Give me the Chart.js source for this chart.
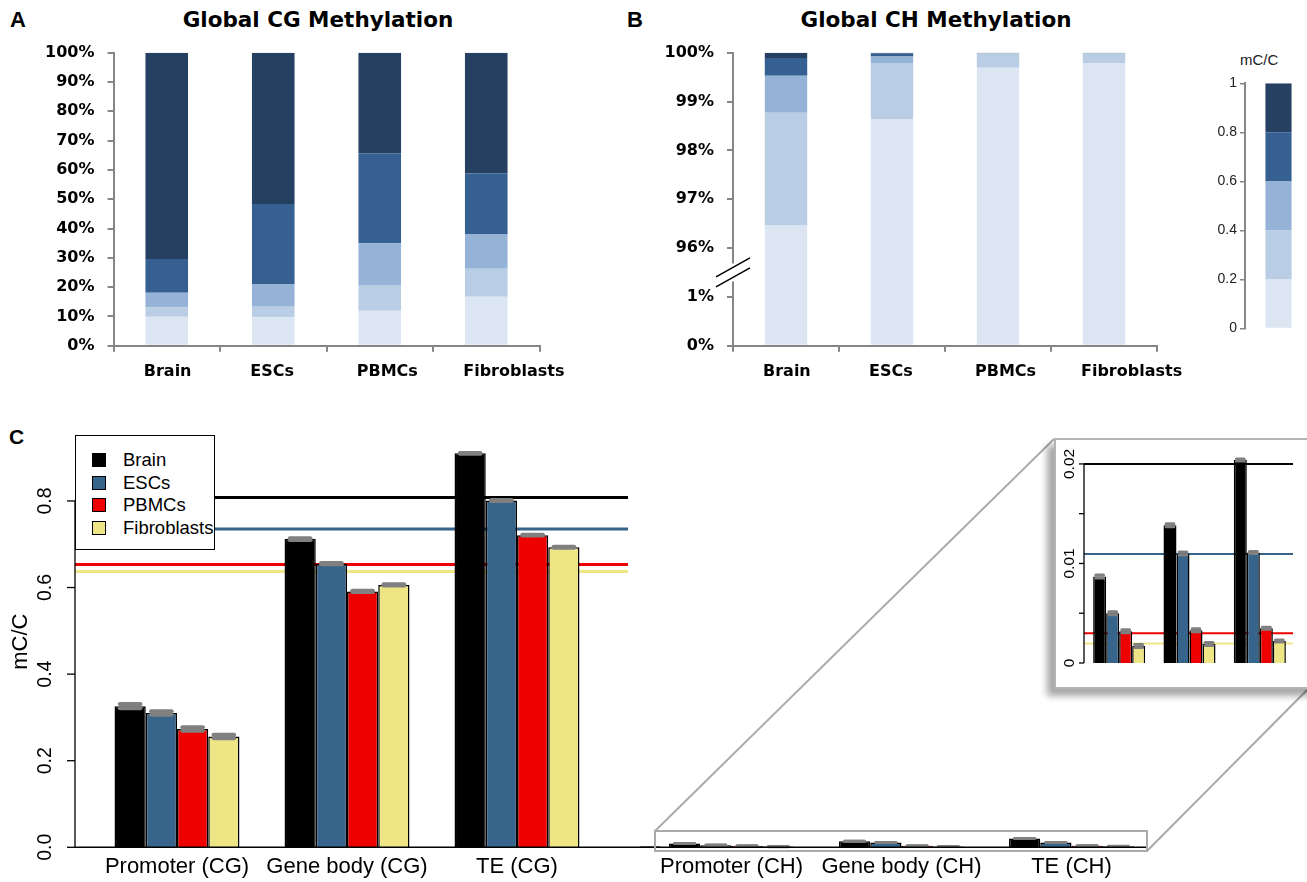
<!DOCTYPE html>
<html>
<head>
<meta charset="utf-8">
<script src="https://cdn.jsdelivr.net/npm/chart.js@4.4.0/dist/chart.umd.min.js"></script>
<style>
html, body { margin: 0; padding: 0; overflow: hidden; background: #fff; }
body { width: 1307px; height: 882px; position: relative; font-family: "Liberation Sans", Arial, sans-serif; }
.pane { position: absolute; }
.title { position: absolute; font-family: "DejaVu Sans", sans-serif; font-weight: bold; font-size: 21.5px; line-height: 22px; text-align: center; color: #000; }
.letter { position: absolute; font-family: "Liberation Sans", Arial, sans-serif; font-weight: bold; font-size: 22px; line-height: 22px; color: #000; }
#legendC { position: absolute; left: 75px; top: 435px; width: 138px; height: 113px; border: 1.5px solid #000; background: #fff;
  font-size: 18.5px; }
#legendC div { position: absolute; left: 47px; line-height: 19px; white-space: nowrap; }
#legendC span { position: absolute; left: -31px; top: 3px; width: 12px; height: 12px; border: 1px solid #000; }
#inset { position: absolute; left: 1054px; top: 438px; width: 270px; height: 247px; border: 2px solid #b4b4b4; background: #fff;
  box-shadow: -7px 7px 7px rgba(0,0,0,0.35); }
#scaleTitle { position: absolute; left: 1240px; top: 52px; font-size: 15px; line-height: 15px; color: #222; }
svg { position: absolute; left: 0; top: 0; }
</style>
</head>
<body>
<div class="letter" style="left:10px;top:9px">A</div>
<div class="title" style="left:118px;top:9px;width:400px">Global CG Methylation</div>
<div class="letter" style="left:627px;top:9px">B</div>
<div class="title" style="left:736px;top:9px;width:400px">Global CH Methylation</div>
<div class="letter" style="left:9px;top:426px;font-size:21px">C</div>
<div id="scaleTitle">mC/C</div>

<div class="pane" style="left:0;top:0;width:600px;height:390px"><canvas id="cgChart"></canvas></div>
<div class="pane" style="left:600px;top:0;width:600px;height:390px"><canvas id="chChart"></canvas></div>
<div class="pane" style="left:1190px;top:40px;width:122px;height:300px"><canvas id="scaleChart"></canvas></div>
<div class="pane" style="left:0;top:420px;width:660px;height:462px"><canvas id="regionCG"></canvas></div>
<div class="pane" style="left:640px;top:420px;width:520px;height:462px"><canvas id="regionCH"></canvas></div>

<svg width="1307" height="882">
  <rect x="655" y="831" width="492" height="20" fill="none" stroke="#aaa" stroke-width="2"/>
  <line x1="655" y1="831" x2="1054" y2="439" stroke="#aaa" stroke-width="2"/>
  <line x1="1147" y1="851" x2="1307" y2="690" stroke="#aaa" stroke-width="2"/>
</svg>
<div id="inset"></div>
<div class="pane" style="left:1054px;top:440px;width:253px;height:240px"><canvas id="insetCH"></canvas></div>

<div id="legendC">
  <div style="top:14px"><span style="background:#000"></span>Brain</div>
  <div style="top:37px"><span style="background:#36648b"></span>ESCs</div>
  <div style="top:59px"><span style="background:#ee0000"></span>PBMCs</div>
  <div style="top:82px"><span style="background:#eee685"></span>Fibroblasts</div>
</div>

<script>
const ARIAL = "'Liberation Sans', Arial, sans-serif";
const WIDE = "'DejaVu Sans', sans-serif";
Chart.defaults.font.family = ARIAL;
Chart.defaults.animation = false;

const cellTypes = ["Brain", "ESCs", "PBMCs", "Fibroblasts"];
const binNames = ["0-0.2", "0.2-0.4", "0.4-0.6", "0.6-0.8", "0.8-1"];
const binColors = ["#dce6f2", "#b9cde5", "#95b3d7", "#366092", "#254061"];

// A: % of CG sites per mC/C bin, lowest bin first
const cgBin1 = [9.9, 9.7, 11.9, 16.7];
const cgBin2 = [3.2, 3.6, 8.8, 9.6];
const cgBin3 = [5.0, 7.6, 14.3, 11.8];
const cgBin4 = [11.5, 27.5, 30.6, 20.7];
const cgBin5 = [70.4, 51.6, 34.4, 41.2];

// B: % of CH sites per mC/C bin
const chBin1 = [96.46, 98.63, 99.69, 99.79];
const chBin2 = [2.31, 1.16, 0.29, 0.19];
const chBin3 = [0.76, 0.13, 0.01, 0.01];
const chBin4 = [0.36, 0.07, 0.005, 0.005];
const chBin5 = [0.11, 0.01, 0.005, 0.005];
const chTickLabels = ["0%", "1%", "96%", "97%", "98%", "99%", "100%"];

// colour key
const scaleSteps = [0.2, 0.2, 0.2, 0.2, 0.2];

// C: mean mC/C per region
const regionsCG = ["Promoter (CG)", "Gene body (CG)", "TE (CG)"];
const regionsCH = ["Promoter (CH)", "Gene body (CH)", "TE (CH)"];
const brainCG = [0.326, 0.712, 0.910];
const escCG = [0.310, 0.655, 0.801];
const pbmcCG = [0.273, 0.591, 0.721];
const fibroCG = [0.256, 0.606, 0.693];
const brainCGErr = [0.005, 0.002, 0.001];
const escCGErr = [0.004, 0.0015, 0.001];
const pbmcCGErr = [0.004, 0.0015, 0.001];
const fibroCGErr = [0.004, 0.0015, 0.001];
const globalCG = [0.808, 0.735, 0.653, 0.637];
const cgTicks = [0, 0.2, 0.4, 0.6, 0.8];
const cgTickText = ["0.0", "0.2", "0.4", "0.6", "0.8"];

const brainCH = [0.0087, 0.01385, 0.0204];
const escCH = [0.0050, 0.0110, 0.0111];
const pbmcCH = [0.0032, 0.0033, 0.0035];
const fibroCH = [0.0017, 0.0019, 0.0022];
const chErr = [0.00015, 0.00015, 0.0001];
const globalCH = [0.0200, 0.01094, 0.00298, 0.00197];
const chTicks = [0, 0.005, 0.01, 0.015, 0.02];
const chTickText = ["0", "", "0.01", "", "0.02"];

const cellColors = ["#000000", "#36648b", "#ee0000", "#eee685"];
const AXIS_GRAY = "#868686";

// ---------- panels A and B: Excel-style axes ----------
function excelX() {
  return {
    offset: true,
    afterFit: (s) => { s.height = 44.3; s.paddingLeft = 0; s.paddingRight = 0; },
    grid: { offset: true, drawOnChartArea: false, tickLength: 6, color: AXIS_GRAY, lineWidth: 2 },
    border: { color: AXIS_GRAY, width: 2 },
    ticks: { color: "#000", font: { family: WIDE, size: 16, weight: "bold" }, padding: 11,
      maxRotation: 0, align: "start", labelOffset: -23 },
  };
}
function excelY(width, extra) {
  return {
    afterFit: (s) => { s.width = width; },
    grid: { drawOnChartArea: false, tickLength: 6, color: AXIS_GRAY, lineWidth: 2 },
    border: { color: AXIS_GRAY, width: 2 },
    ticks: { color: "#000", font: { family: WIDE, size: 16, weight: "bold" }, padding: 13, ...extra },
  };
}

new Chart(document.getElementById("cgChart"), {
  type: "bar",
  data: {
    labels: cellTypes,
    datasets: [cgBin1, cgBin2, cgBin3, cgBin4, cgBin5].map((d, i) => ({
      label: binNames[i], data: d, backgroundColor: binColors[i],
      categoryPercentage: 1, barPercentage: 0.4,
    })),
  },
  options: {
    responsive: true, maintainAspectRatio: false,
    layout: { padding: { top: 52.7, right: 60.5, left: 0, bottom: 0 } },
    plugins: { legend: { display: false }, tooltip: { enabled: false } },
    scales: {
      x: { ...excelX(), stacked: true },
      y: { ...excelY(113.5, { stepSize: 10, callback: (v) => v + "%" }), stacked: true, min: 0, max: 100 },
    },
  },
});

// ---------- panel B (broken axis: 0-1% then 96-100%) ----------
const squeeze = (v) => (v <= 1 ? v : v - 94);
const chBins = [chBin1, chBin2, chBin3, chBin4, chBin5];
const chCum = chBins.map((_, b) => cellTypes.map((_, c) => {
  let lo = 0;
  for (let k = 0; k < b; k++) lo += chBins[k][c];
  return [lo, lo + chBins[b][c]];
}));

const breakMark = {
  id: "breakMark",
  afterDraw(chart) {
    const ctx = chart.ctx, y = chart.scales.y;
    const x0 = chart.chartArea.left;
    const ym = (y.getPixelForValue(1) + y.getPixelForValue(2)) / 2;
    ctx.save();
    ctx.fillStyle = "#fff";
    ctx.fillRect(x0 - 3, ym - 9, 6, 18);
    ctx.strokeStyle = "#000";
    ctx.lineWidth = 1.5;
    [-5, 5].forEach((d) => {
      ctx.beginPath();
      ctx.moveTo(x0 - 17, ym + d + 9.5);
      ctx.lineTo(x0 + 17, ym + d - 9.5);
      ctx.stroke();
    });
    ctx.restore();
  },
};

new Chart(document.getElementById("chChart"), {
  type: "bar",
  data: {
    labels: cellTypes,
    datasets: chCum.map((rows, i) => ({
      label: binNames[i],
      data: rows.map(([lo, hi]) => [squeeze(Math.min(lo, 100)), squeeze(Math.min(hi, 100))]),
      backgroundColor: binColors[i], grouped: false,
      categoryPercentage: 1, barPercentage: 0.4,
    })),
  },
  options: {
    responsive: true, maintainAspectRatio: false,
    layout: { padding: { top: 52.7, right: 43, left: 0, bottom: 0 } },
    plugins: { legend: { display: false }, tooltip: { enabled: false } },
    scales: {
      x: excelX(),
      y: { ...excelY(133, { stepSize: 1, callback: (v) => chTickLabels[v] }), min: 0, max: 6 },
    },
  },
  plugins: [breakMark],
});

// ---------- colour key ----------
new Chart(document.getElementById("scaleChart"), {
  type: "bar",
  data: {
    labels: [""],
    datasets: scaleSteps.map((s, i) => ({
      label: binNames[i], data: [s], backgroundColor: binColors[i],
      categoryPercentage: 1, barPercentage: 0.39,
    })),
  },
  options: {
    responsive: true, maintainAspectRatio: false,
    layout: { padding: { top: 43.3, bottom: 6.7, left: 0, right: 0 } },
    plugins: { legend: { display: false }, tooltip: { enabled: false } },
    scales: {
      x: { stacked: true, display: false },
      y: {
        stacked: true, min: 0, max: 1,
        afterFit: (s) => { s.width = 55; },
        grid: { drawOnChartArea: false, tickLength: 5, color: AXIS_GRAY, lineWidth: 1.5 },
        border: { color: AXIS_GRAY, width: 2 },
        ticks: { stepSize: 0.2, color: "#222", font: { size: 14 }, padding: 3,
          callback: (v) => (v === 0 || v === 1 ? String(v) : v.toFixed(1)) },
      },
    },
  },
});

// ---------- panel C helpers (R-style) ----------
function rAxis(ticks, texts, gap, tickLen, labelOff, fontSize, title) {
  return {
    id: "rAxis",
    afterDraw(chart) {
      const ctx = chart.ctx, y = chart.scales.y;
      const ax = chart.chartArea.left - gap;
      ctx.save();
      ctx.strokeStyle = "#000";
      ctx.lineWidth = 1.3;
      ctx.beginPath();
      ctx.moveTo(ax, y.getPixelForValue(ticks[0]));
      ctx.lineTo(ax, y.getPixelForValue(ticks[ticks.length - 1]));
      ctx.stroke();
      ctx.fillStyle = "#000";
      ctx.font = fontSize + "px " + ARIAL;
      ctx.textAlign = "center";
      ctx.textBaseline = "middle";
      ticks.forEach((t, i) => {
        const py = y.getPixelForValue(t);
        ctx.beginPath();
        ctx.moveTo(ax - tickLen, py);
        ctx.lineTo(ax, py);
        ctx.stroke();
        if (!texts[i]) return;
        ctx.save();
        ctx.translate(ax - labelOff, py);
        ctx.rotate(-Math.PI / 2);
        ctx.fillText(texts[i], 0, 0);
        ctx.restore();
      });
      if (title) {
        ctx.font = "22px " + ARIAL;
        ctx.save();
        ctx.translate(ax - 54, (chart.chartArea.top + chart.chartArea.bottom) / 2);
        ctx.rotate(-Math.PI / 2);
        ctx.fillText(title, 0, 0);
        ctx.restore();
      }
      ctx.restore();
    },
  };
}

function refLines(values, gap, ext, lw) {
  return {
    id: "refLines",
    beforeDatasetsDraw(chart) {
      const ctx = chart.ctx, y = chart.scales.y, a = chart.chartArea;
      ctx.save();
      ctx.lineWidth = lw;
      values.forEach((v, i) => {
        const py = y.getPixelForValue(v);
        ctx.strokeStyle = cellColors[i];
        ctx.beginPath();
        ctx.moveTo(a.left - gap, py);
        ctx.lineTo(a.right + ext, py);
        ctx.stroke();
      });
      ctx.restore();
    },
  };
}

function errorCaps(errs, half, lw) {
  return {
    id: "errorCaps",
    afterDatasetsDraw(chart) {
      const ctx = chart.ctx, y = chart.scales.y;
      ctx.save();
      ctx.strokeStyle = "#808080";
      ctx.lineWidth = lw;
      ctx.lineCap = "round";
      chart.data.datasets.forEach((ds, i) => {
        chart.getDatasetMeta(i).data.forEach((bar, j) => {
          const v = ds.data[j], e = errs[i][j], w = bar.width * half;
          [v - e, v + e].forEach((val) => {
            const py = y.getPixelForValue(val);
            ctx.beginPath();
            ctx.moveTo(bar.x - w, py);
            ctx.lineTo(bar.x + w, py);
            ctx.stroke();
          });
        });
      });
      ctx.restore();
    },
  };
}

function baseline(fromX, toX) {
  return {
    id: "baseline",
    afterDatasetsDraw(chart) {
      const ctx = chart.ctx, py = chart.scales.y.getPixelForValue(0);
      ctx.save();
      ctx.strokeStyle = "#000";
      ctx.lineWidth = 1.5;
      ctx.beginPath();
      ctx.moveTo(fromX(chart), py);
      ctx.lineTo(toX(chart), py);
      ctx.stroke();
      ctx.restore();
    },
  };
}

function regionBars(series, catPct) {
  return series.map((d, i) => ({
    label: cellTypes[i], data: d,
    backgroundColor: cellColors[i], borderColor: "#000", borderWidth: 1.5,
    categoryPercentage: catPct, barPercentage: 1,
  }));
}

function regionOptions(padding, xLabels, yMax) {
  return {
    responsive: true, maintainAspectRatio: false,
    layout: { padding },
    plugins: { legend: { display: false }, tooltip: { enabled: false } },
    scales: {
      x: xLabels ? {
        afterFit: (s) => { s.height = 34.7; },
        grid: { display: false, drawTicks: false },
        border: { display: false },
        ticks: { color: "#000", font: { size: 22 }, padding: 6, maxRotation: 0, autoSkip: false },
      } : { display: false },
      y: { display: false, min: 0, max: yMax },
    },
  };
}

// ---------- panel C: CG ----------
new Chart(document.getElementById("regionCG"), {
  type: "bar",
  data: { labels: regionsCG, datasets: regionBars([brainCG, escCG, pbmcCG, fibroCG], 0.735) },
  options: regionOptions({ left: 92, right: 58, top: 16, bottom: 0 }, true, 0.95),
  plugins: [
    refLines(globalCG, 17, 26, 3),
    errorCaps([brainCGErr, escCGErr, pbmcCGErr, fibroCGErr], 0.33, 4),
    baseline((c) => c.chartArea.left - 17, (c) => c.width),
    rAxis(cgTicks, cgTickText, 17, 8, 29, 19.5, "mC/C"),
  ],
});

// ---------- panel C: CH (full scale) ----------
const chErrs = cellTypes.map(() => chErr);
new Chart(document.getElementById("regionCH"), {
  type: "bar",
  data: { labels: regionsCH, datasets: regionBars([brainCH, escCH, pbmcCH, fibroCH], 0.735) },
  options: regionOptions({ left: 6.5, right: 3.5, top: 16, bottom: 0 }, true, 0.95),
  plugins: [
    errorCaps(chErrs, 0.32, 3),
    baseline(() => 0, (c) => c.chartArea.right - 10),
  ],
});

// ---------- panel C: CH inset ----------
new Chart(document.getElementById("insetCH"), {
  type: "bar",
  data: { labels: regionsCH, datasets: regionBars([brainCH, escCH, pbmcCH, fibroCH], 0.74) },
  options: regionOptions({ left: 30, right: 12, top: 9, bottom: 17 }, false, 0.0215),
  plugins: [
    refLines(globalCH, 0, -2, 2),
    errorCaps(chErrs, 0.3, 3),
    rAxis(chTicks, chTickText, 0, 5, 14, 15.5, null),
  ],
});
</script>
</body>
</html>
